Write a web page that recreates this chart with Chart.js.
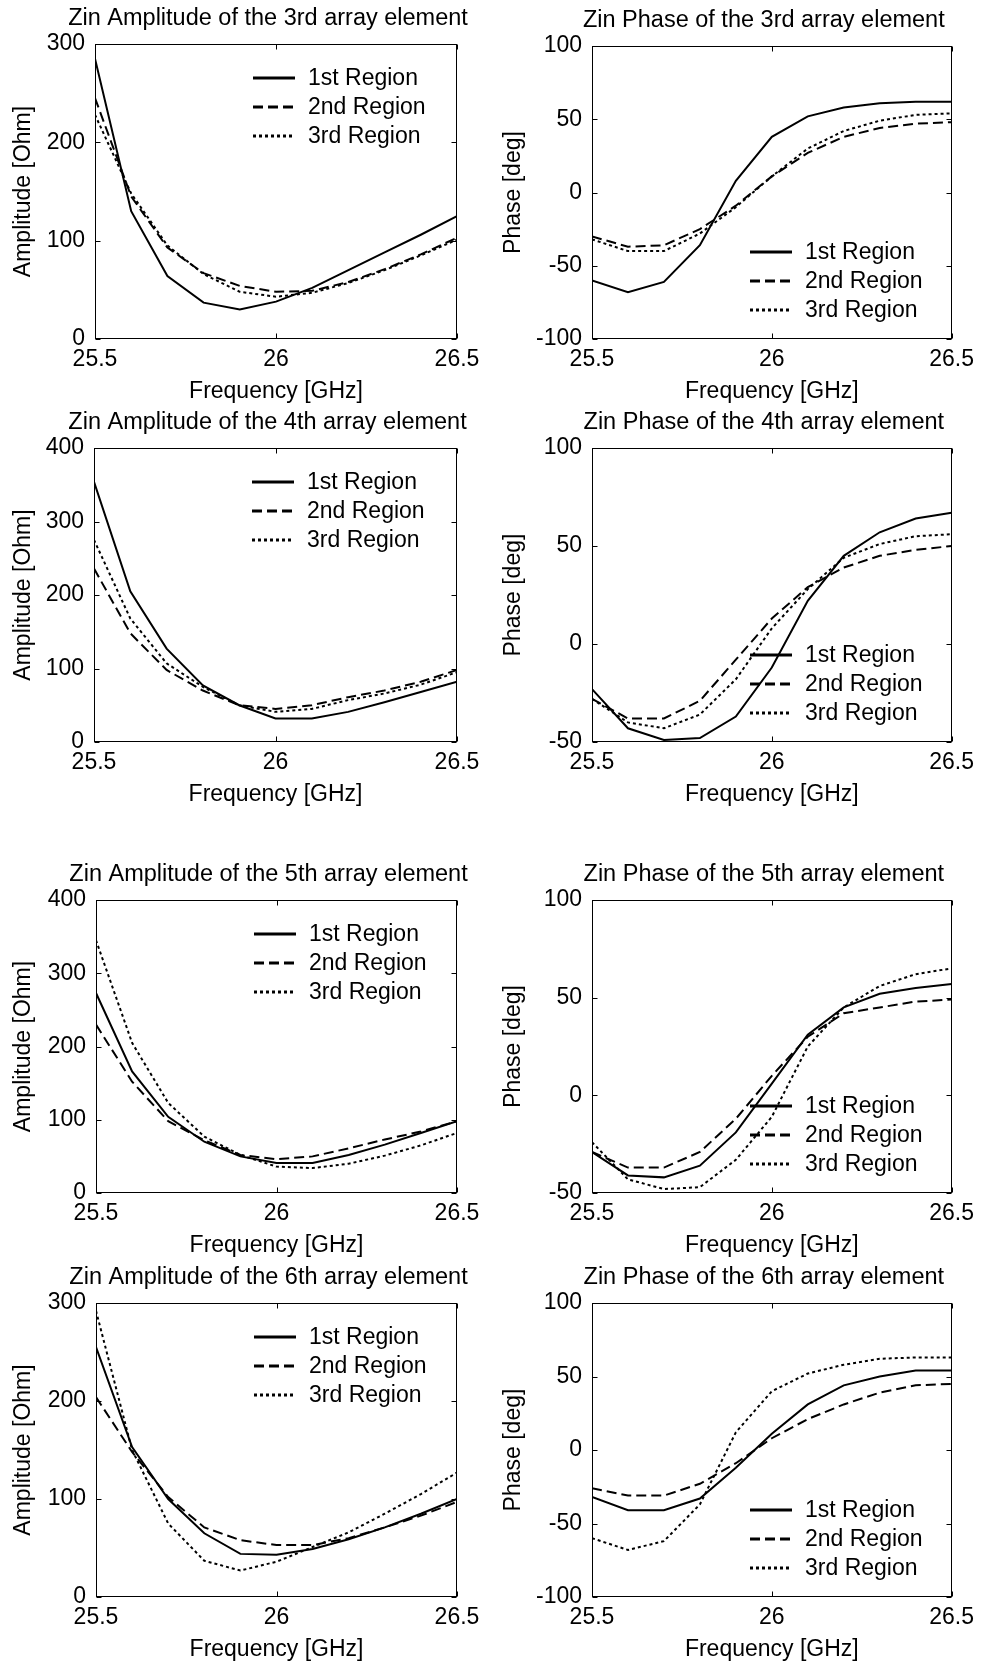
<!DOCTYPE html>
<html>
<head>
<meta charset="utf-8">
<title>Zin amplitude / phase</title>
<script src="https://cdn.jsdelivr.net/npm/chart.js@4.4.1/dist/chart.umd.min.js"></script>
<style>
  html, body { margin: 0; padding: 0; background: #fff; }
  #page { position: relative; width: 981px; height: 1666px; overflow: hidden; }
  .panel { position: absolute; }
  .panel canvas { display: block; }
</style>
</head>
<body>
<div id="page"></div>
<script>
// ----- data -----
const freqGHz = [25.5, 25.6, 25.7, 25.8, 25.9, 26.0, 26.1, 26.2, 26.3, 26.4, 26.5];
const regionLabels = ['1st Region', '2nd Region', '3rd Region'];

// 3rd element
const amp3_r1 = [285, 130, 64, 37, 30, 38, 52, 70, 88, 106, 125];
const amp3_r2 = [245, 145, 93, 67, 54, 48, 49, 58, 71, 86, 103];
const amp3_r3 = [228, 148, 95, 66, 48, 43, 47, 57, 70, 85, 101];
const phase3_r1 = [-60, -68, -61, -36, 8, 38, 52, 58, 61, 62, 62];
const phase3_r2 = [-30, -37, -36, -25, -9, 11, 27, 38, 44, 47, 48];
const phase3_r3 = [-32, -40, -40, -28, -10, 11, 30, 42, 49, 53, 54];

// 4th element
const amp4_r1 = [354, 205, 127, 77, 50, 32, 32, 41, 54, 68, 82];
const amp4_r2 = [236, 148, 98, 70, 50, 45, 50, 61, 70, 82, 98];
const amp4_r3 = [275, 168, 107, 75, 50, 41, 45, 57, 66, 78, 95];
const phase4_r1 = [-23, -43, -49, -48, -37, -12, 22, 45, 57, 64, 67];
const phase4_r2 = [-28, -38, -38, -29, -8, 13, 29, 39, 45, 48, 50];
const phase4_r3 = [-28, -40, -43, -36, -18, 8, 28, 44, 51, 55, 56];

// 5th element
const amp5_r1 = [273, 166, 104, 70, 50, 41, 41, 52, 66, 82, 98];
const amp5_r2 = [230, 152, 98, 72, 52, 46, 50, 61, 73, 84, 98];
const amp5_r3 = [345, 205, 123, 77, 52, 36, 34, 40, 51, 65, 82];
const phase5_r1 = [-29, -41, -42, -36, -19, 6, 31, 45, 52, 55, 57];
const phase5_r2 = [-29, -37, -37, -29, -12, 10, 30, 42, 45, 48, 49];
const phase5_r3 = [-24, -43, -48, -47, -33, -11, 25, 45, 56, 62, 65];

// 6th element
const amp6_r1 = [255, 153, 100, 65, 44, 43, 49, 59, 71, 85, 100];
const amp6_r2 = [204, 148, 102, 71, 58, 53, 53, 60, 71, 83, 97];
const amp6_r3 = [292, 150, 75, 37, 27, 36, 51, 66, 85, 105, 127];
const phase6_r1 = [-32, -41, -41, -33, -12, 11, 31, 44, 50, 54, 54];
const phase6_r2 = [-26, -31, -31, -23, -9, 8, 21, 31, 39, 44, 45];
const phase6_r3 = [-60, -68, -62, -37, 12, 40, 52, 58, 62, 63, 63];

// tick labels
const freqTicks = [25.5, 26, 26.5];
const amp300Ticks = [0, 100, 200, 300];
const amp400Ticks = [0, 100, 200, 300, 400];
const phase100Ticks = [-100, -50, 0, 50, 100];
const phase50Ticks = [-50, 0, 50, 100];

// ----- layout of the 8 panels (plot box: left, right, top, bottom) -----
const panels = [
  { title: 'Zin Amplitude of the 3rd array element', yLabel: 'Amplitude [Ohm]', yTicks: amp300Ticks,
    series: [amp3_r1, amp3_r2, amp3_r3], legend: 'top', box: [95, 457, 44, 339] },
  { title: 'Zin Phase of the 3rd array element', yLabel: 'Phase [deg]', yTicks: phase100Ticks,
    series: [phase3_r1, phase3_r2, phase3_r3], legend: 'bottom', box: [592, 956, 46, 339] },
  { title: 'Zin Amplitude of the 4th array element', yLabel: 'Amplitude [Ohm]', yTicks: amp400Ticks,
    series: [amp4_r1, amp4_r2, amp4_r3], legend: 'top', box: [94, 457, 448, 742] },
  { title: 'Zin Phase of the 4th array element', yLabel: 'Phase [deg]', yTicks: phase50Ticks,
    series: [phase4_r1, phase4_r2, phase4_r3], legend: 'bottom', box: [592, 956, 448, 742] },
  { title: 'Zin Amplitude of the 5th array element', yLabel: 'Amplitude [Ohm]', yTicks: amp400Ticks,
    series: [amp5_r1, amp5_r2, amp5_r3], legend: 'top', box: [96, 457, 900, 1193] },
  { title: 'Zin Phase of the 5th array element', yLabel: 'Phase [deg]', yTicks: phase50Ticks,
    series: [phase5_r1, phase5_r2, phase5_r3], legend: 'bottom', box: [592, 954, 900, 1193] },
  { title: 'Zin Amplitude of the 6th array element', yLabel: 'Amplitude [Ohm]', yTicks: amp300Ticks,
    series: [amp6_r1, amp6_r2, amp6_r3], legend: 'top', box: [96, 457, 1303, 1597] },
  { title: 'Zin Phase of the 6th array element', yLabel: 'Phase [deg]', yTicks: phase100Ticks,
    series: [phase6_r1, phase6_r2, phase6_r3], legend: 'bottom', box: [592, 954, 1303, 1597] },
];

const FONT = '"Liberation Sans", Arial, Helvetica, sans-serif';
const FS = 23;
const TITLE_FS = 23.5;
const TITLE_H = 44;   // space above the plot box
const XAXIS_H = 66;   // space below the plot box
const dashes = [[], [10, 5], [3, 3]];

Chart.defaults.font.family = FONT;
Chart.defaults.font.size = FS;
Chart.defaults.color = '#000';

// ===== MATLAB-like frame: full box + inward ticks on all four sides =====
const matlabFrame = {
  id: 'matlabFrame',
  afterDraw(chart) {
    const { ctx, chartArea: a, scales: { x, y } } = chart;
    const L = Math.round(a.left) + 0.5, R = Math.round(a.right) - 0.5;
    const T = Math.round(a.top) + 0.5, B = Math.round(a.bottom) - 0.5;
    ctx.save();
    ctx.strokeStyle = '#000';
    ctx.lineWidth = 1;
    ctx.setLineDash([]);
    ctx.strokeRect(L, T, R - L, B - T);
    ctx.beginPath();
    x.ticks.forEach(t => {
      const px = Math.round(x.getPixelForValue(t.value)) + 0.5;
      ctx.moveTo(px, T); ctx.lineTo(px, T + 5);
      ctx.moveTo(px, B); ctx.lineTo(px, B - 5);
    });
    y.ticks.forEach(t => {
      const py = Math.round(y.getPixelForValue(t.value)) + 0.5;
      ctx.moveTo(L, py); ctx.lineTo(L + 5, py);
      ctx.moveTo(R, py); ctx.lineTo(R - 5, py);
    });
    ctx.stroke();
    ctx.restore();
  }
};

// ===== panel title above the box (slightly left of centre, as in the figure) =====
const boxTitle = {
  id: 'boxTitle',
  afterDraw(chart, args, opts) {
    const { ctx, chartArea: a } = chart;
    ctx.save();
    ctx.font = TITLE_FS + 'px ' + FONT;
    ctx.fillStyle = '#000';
    ctx.textAlign = 'center';
    ctx.textBaseline = 'middle';
    ctx.fillText(opts.text, a.left + a.width / 2 - 8, a.top - 25);
    ctx.restore();
  }
};

// ===== legend drawn inside the plot box, no frame =====
const insideLegend = {
  id: 'insideLegend',
  afterDatasetsDraw(chart, args, opts) {
    const { ctx, chartArea: a } = chart;
    ctx.save();
    ctx.font = FS + 'px ' + FONT;
    ctx.fillStyle = '#000';
    ctx.textBaseline = 'middle';
    ctx.textAlign = 'left';
    chart.data.datasets.forEach((ds, i) => {
      const yy = opts.where === 'top' ? a.top + 34 + i * 29 : a.bottom - 87 + i * 29;
      ctx.strokeStyle = '#000';
      ctx.lineWidth = 3;
      ctx.setLineDash(ds.borderDash || []);
      ctx.beginPath();
      ctx.moveTo(a.left + 158, yy);
      ctx.lineTo(a.left + 200, yy);
      ctx.stroke();
      ctx.setLineDash([]);
      ctx.fillText(ds.label, a.left + 213, yy + 1);
    });
    ctx.restore();
  }
};

const page = document.getElementById('page');

function makePanel(p) {
  const [L, R, T, B] = p.box;
  const colX = L < 490 ? 0 : 490;
  const colW = colX ? 491 : 490;
  const w = colW, h = (B - T) + TITLE_H + XAXIS_H;

  const div = document.createElement('div');
  div.className = 'panel';
  div.style.left = colX + 'px';
  div.style.top = (T - TITLE_H) + 'px';
  div.style.width = w + 'px';
  div.style.height = h + 'px';
  const cv = document.createElement('canvas');
  cv.width = w; cv.height = h;
  div.appendChild(cv);
  page.appendChild(div);

  const datasets = p.series.map((vals, k) => ({
    label: regionLabels[k],
    data: freqGHz.map((f, i) => ({ x: f, y: vals[i] })),
    borderColor: '#000',
    borderWidth: 2,
    borderDash: dashes[k],
    pointRadius: 0,
    fill: false,
    tension: 0
  }));

  return new Chart(cv, {
    type: 'line',
    data: { datasets },
    plugins: [matlabFrame, insideLegend, boxTitle],
    options: {
      responsive: false,
      animation: false,
      devicePixelRatio: 1,
      layout: { padding: { left: 0, top: TITLE_H, bottom: 0, right: colX + colW - R } },
      scales: {
        x: {
          type: 'linear',
          min: freqTicks[0], max: freqTicks[freqTicks.length - 1],
          afterBuildTicks: s => { s.ticks = freqTicks.map(v => ({ value: v })); },
          afterFit: s => { s.height = XAXIS_H; },
          grid: { display: false, drawTicks: false },
          border: { display: false },
          ticks: { padding: 7, maxRotation: 0, autoSkip: false, color: '#000', callback: v => String(v) },
          title: { display: true, text: 'Frequency [GHz]', color: '#000', padding: { top: 0, bottom: 0 } }
        },
        y: {
          type: 'linear',
          min: p.yTicks[0], max: p.yTicks[p.yTicks.length - 1],
          afterBuildTicks: s => { s.ticks = p.yTicks.map(v => ({ value: v })); },
          afterFit: s => { s.width = L - colX; },
          grid: { display: false, drawTicks: false },
          border: { display: false },
          ticks: { padding: 10, color: '#000', callback: v => String(v) },
          title: { display: true, text: p.yLabel, color: '#000', padding: { top: 10, bottom: 0 } }
        }
      },
      plugins: {
        legend: { display: false },
        tooltip: { enabled: false },
        title: { display: false },
        insideLegend: { where: p.legend },
        boxTitle: { text: p.title }
      }
    }
  });
}

panels.forEach(makePanel);
</script>
</body>
</html>
